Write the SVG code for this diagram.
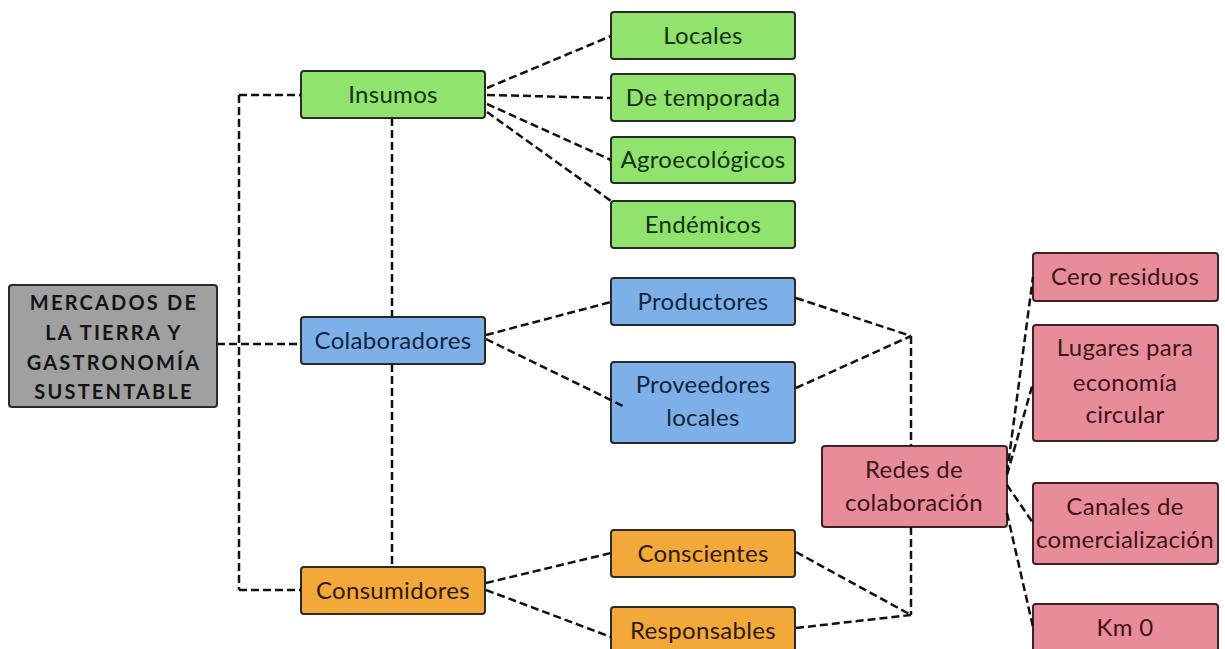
<svg xmlns="http://www.w3.org/2000/svg" width="1225" height="649" viewBox="0 0 1225 649">
<style>
.box{stroke:#2a2a2a;stroke-width:2}
.g{fill:#90E36C}
.b{fill:#7DB0E8}
.o{fill:#F2A93A}
.p{fill:#E98C99;stroke:#3b2326}
.m{fill:#A0A0A0}
text{font-family:Lato,"Liberation Sans",sans-serif;font-size:24px;letter-spacing:0.3px;text-anchor:middle}
.tg{fill:#17300f}
.tb{fill:#14243a}
.to{fill:#2e1a05}
.tp{fill:#3a1619}
.tm{font-weight:bold;font-size:20px;letter-spacing:2.2px;fill:#141414}
.c{fill:none;stroke:#111;stroke-width:2.5;stroke-dasharray:8 4}
</style>
<rect width="1225" height="649" fill="#fff"/>
<g id="main">
<rect class="box m" x="9" y="285" width="208" height="122" rx="3"/>
<text class="tm" x="114" y="310">MERCADOS DE</text>
<text class="tm" x="114" y="340">LA TIERRA Y</text>
<text class="tm" x="114" y="370">GASTRONOMÍA</text>
<text class="tm" x="114" y="399">SUSTENTABLE</text>
</g>
<g id="insumos"><rect class="box g" x="301" y="71" width="184" height="47" rx="3"/><text class="tg" x="393" y="103">Insumos</text></g>
<g id="colaboradores"><rect class="box b" x="301" y="317" width="184" height="47" rx="3"/><text class="tb" x="393" y="349">Colaboradores</text></g>
<g id="consumidores"><rect class="box o" x="301" y="567" width="184" height="47" rx="3"/><text class="to" x="393" y="599">Consumidores</text></g>
<g id="locales"><rect class="box g" x="611" y="12" width="184" height="47" rx="3"/><text class="tg" x="703" y="44">Locales</text></g>
<g id="temporada"><rect class="box g" x="611" y="74" width="184" height="47" rx="3"/><text class="tg" x="703" y="106">De temporada</text></g>
<g id="agroecologicos"><rect class="box g" x="611" y="137" width="184" height="46" rx="3"/><text class="tg" x="703" y="168">Agroecológicos</text></g>
<g id="endemicos"><rect class="box g" x="611" y="201" width="184" height="47" rx="3"/><text class="tg" x="703" y="233">Endémicos</text></g>
<g id="productores"><rect class="box b" x="611" y="278" width="184" height="47" rx="3"/><text class="tb" x="703" y="310">Productores</text></g>
<g id="proveedores"><rect class="box b" x="611" y="362" width="184" height="81" rx="3"/><text class="tb" x="703" y="393">Proveedores</text><text class="tb" x="703" y="426">locales</text></g>
<g id="conscientes"><rect class="box o" x="611" y="530" width="184" height="47" rx="3"/><text class="to" x="703" y="562">Conscientes</text></g>
<g id="responsables"><rect class="box o" x="611" y="607" width="184" height="52" rx="3"/><text class="to" x="703" y="639">Responsables</text></g>
<g id="redes"><rect class="box p" x="822" y="446" width="185" height="81" rx="3"/><text class="tp" x="914" y="478">Redes de</text><text class="tp" x="914" y="511">colaboración</text></g>
<g id="cero"><rect class="box p" x="1033" y="253" width="185" height="48" rx="3"/><text class="tp" x="1125" y="285">Cero residuos</text></g>
<g id="lugares"><rect class="box p" x="1033" y="325" width="185" height="116" rx="3"/><text class="tp" x="1125" y="356">Lugares para</text><text class="tp" x="1125" y="391">economía</text><text class="tp" x="1125" y="423">circular</text></g>
<g id="canales"><rect class="box p" x="1033" y="483" width="185" height="81" rx="3"/><text class="tp" x="1125" y="515">Canales de</text><text class="tp" x="1125" y="548">comercialización</text></g>
<g id="km0"><rect class="box p" x="1033" y="604" width="185" height="52" rx="3"/><text class="tp" x="1125" y="636">Km 0</text></g>
<g id="connectors">
<path class="c" d="M239 95 V590 M239 95 H301 M239 590 H301 M217 344 H301"/>
<path class="c" d="M392 118 V317 M392 364 V567"/>
<path class="c" d="M487 88 L611 36 M487 95 L611 98 M487 104 L611 160 M487 112 L611 201"/>
<path class="c" d="M486 335 L611 302 M486 339 L623 406"/>
<path class="c" d="M486 583 L611 553 M486 590 L611 637"/>
<path class="c" d="M796 298 L911 336 M796 388 L911 336 M911 336 V446 M911 527 V615 M796 552 L911 615 M796 628 L911 615"/>
<path class="c" d="M1007 473 L1033 277 M1007 475 L1033 383 M1007 485 L1033 523 M1007 513 L1033 627"/>
</g>
</svg>
